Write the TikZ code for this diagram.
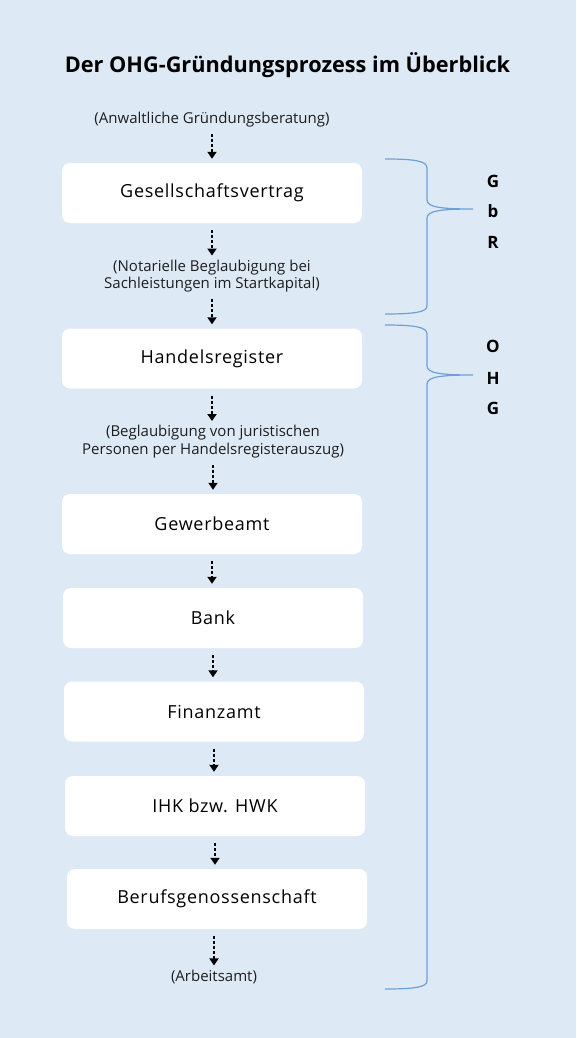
\documentclass[tikz,border=0pt]{standalone}
\usepackage{fontspec}
\setmainfont{Open Sans}
\usetikzlibrary{arrows.meta}

\definecolor{bgblue}{RGB}{222,233,246}
\definecolor{braceblue}{RGB}{110,160,215}
\definecolor{notegray}{RGB}{30,30,30}

\tikzset{
  stepbox/.style={fill=white, rounded corners=8pt, minimum width=300pt,
    minimum height=60pt, inner sep=0pt,
    font=\fontsize{18}{21}\selectfont\addfontfeatures{LetterSpace=4}},
  note/.style={align=center, inner sep=0pt, text=notegray,
    font=\fontsize{15}{17.5}\selectfont},
  flow/.style={line width=2.5pt, dash pattern=on 3pt off 2pt,
    -{Triangle[width=9pt,length=7pt]}, shorten <=7pt, shorten >=4pt},
  bracket/.style={draw=braceblue, line width=1.2pt},
  tag/.style={font=\bfseries\fontsize{17}{19}\selectfont}
}

\begin{document}
\begin{tikzpicture}[x=1pt,y=-1pt]
      \fill[bgblue] (0,0) rectangle (576,1038);
      \useasboundingbox (0,0) rectangle (576,1038);

      \node[font=\bfseries\fontsize{21.7}{25}\selectfont] (title) at (287.5,65) {Der OHG-Gründungsprozess im Überblick};

      % steps
      \node[note] (anwalt) at (212,119.5) {(Anwaltliche Gründungsberatung)};
      \node[stepbox] (vertrag) at (212,193) {Gesellschaftsvertrag};
      \node[note] (notar) at (212,276) {(Notarielle Beglaubigung bei\\Sachleistungen im Startkapital)};
      \node[stepbox] (handel) at (212,358.5) {Handelsregister};
      \node[note] (beglaub) at (213,441.5) {(Beglaubigung von juristischen\\Personen per Handelsregisterauszug)};
      \node[stepbox] (gewerbe) at (212,524) {Gewerbeamt};
      \node[stepbox] (bank) at (213,618) {Bank};
      \node[stepbox] (finanz) at (214,711.5) {Finanzamt};
      \node[stepbox] (ihk) at (215,806) {IHK bzw. HWK};
      \node[stepbox] (beruf) at (217,899) {Berufsgenossenschaft};
      \node[note] (arbeit) at (214,976.5) {(Arbeitsamt)};

      \draw[flow] (anwalt.south) -- (anwalt.south |- vertrag.north);
      \draw[flow] (vertrag.south) -- (vertrag.south |- notar.north);
      \draw[flow] (notar.south) -- (notar.south |- handel.north);
      \draw[flow] (handel.south) -- (handel.south |- beglaub.north);
      \draw[flow] (beglaub.south) -- (beglaub.south |- gewerbe.north);
      \draw[flow] (gewerbe.south) -- (gewerbe.south |- bank.north);
      \draw[flow] (bank.south) -- (bank.south |- finanz.north);
      \draw[flow] (finanz.south) -- (finanz.south |- ihk.north);
      \draw[flow] (ihk.south) -- (ihk.south |- beruf.north);
      \draw[flow] (arbeit.north |- beruf.south) -- (arbeit.north);

      % braces
      \draw[bracket] (385,159) .. controls (415,159) and (427,161) .. (427,168)
        -- (427,200) .. controls (427,207) and (440,209) .. (473,209)
        .. controls (440,209) and (427,211) .. (427,218)
        -- (427,306) .. controls (427,312) and (415,314) .. (385,314);
      \draw[bracket] (385,325) .. controls (415,325) and (427,327) .. (427,334)
        -- (427,366) .. controls (427,373) and (440,375) .. (473,375)
        .. controls (440,375) and (427,377) .. (427,384)
        -- (427,981) .. controls (427,987) and (415,989) .. (385,989);

      \foreach \t/\y in {G/181, b/211, R/242, O/346, H/378, G/408}
      \node[tag] at (493,\y) {\t};
\end{tikzpicture}
\end{document}
